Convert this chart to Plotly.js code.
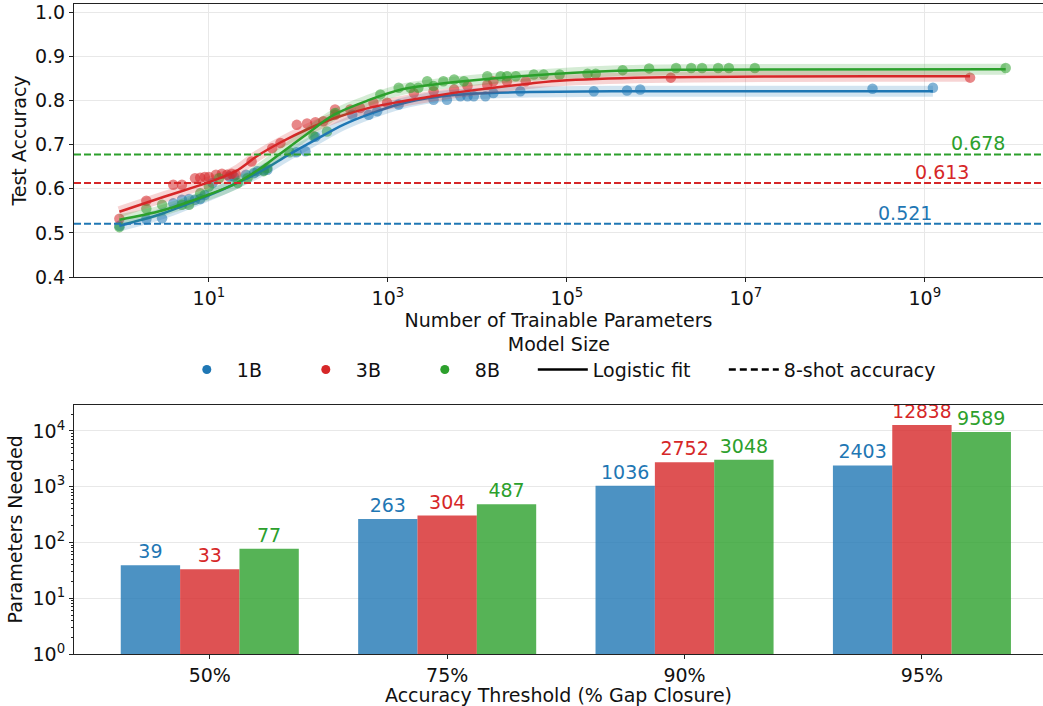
<!DOCTYPE html>
<html><head><meta charset="utf-8">
<script src="https://cdn.plot.ly/plotly-3.0.1.min.js"></script>
<style>html,body{margin:0;padding:0;background:#fff}</style>
</head><body>
<div id="chart" style="width:1043px;height:706px"></div>
<script>
// ---------- data ----------
const seriesNames = ['1B', '3B', '8B'];
const colors = ['#1f77b4', '#d62728', '#2ca02c'];

const params1B = [1, 2, 3, 4, 5, 6, 7, 8, 9, 11, 17, 19, 26, 32, 35, 41, 45, 95, 120, 155, 400, 610, 760, 1320, 3240, 4570, 6460, 7760, 9120, 12300, 15100, 30200, 2.0e5, 4.7e5, 6.6e5, 2.6e8, 1.23e9];
const acc1B    = [0.516, 0.531, 0.533, 0.567, 0.575, 0.577, 0.575, 0.577, 0.586, 0.613, 0.628, 0.628, 0.632, 0.636, 0.640, 0.642, 0.643, 0.683, 0.685, 0.718, 0.768, 0.768, 0.776, 0.791, 0.802, 0.802, 0.810, 0.810, 0.810, 0.810, 0.817, 0.821, 0.821, 0.823, 0.825, 0.827, 0.829];

const params3B = [1, 2, 4, 5, 7, 8, 9, 10, 12, 14, 16, 18, 20, 30, 51, 63, 96, 125, 155, 190, 257, 257, 380, 490, 690, 980, 1950, 3240, 5500, 7760, 12900, 15100, 21400, 34700, 1.45e6, 3.2e9];
const acc3B    = [0.532, 0.573, 0.609, 0.609, 0.624, 0.625, 0.627, 0.627, 0.632, 0.634, 0.632, 0.634, 0.632, 0.662, 0.692, 0.704, 0.745, 0.748, 0.751, 0.753, 0.780, 0.768, 0.780, 0.783, 0.795, 0.795, 0.817, 0.821, 0.825, 0.833, 0.836, 0.844, 0.844, 0.844, 0.852, 0.852];

const params8B = [1, 2, 3, 5, 6, 8, 10, 13, 21, 27, 41, 45, 80, 148, 209, 257, 824, 1320, 1780, 2190, 2750, 3240, 4170, 5500, 7080, 12900, 18200, 21400, 26900, 42700, 55000, 83000, 1.7e5, 2.1e5, 4.2e5, 8.3e5, 1.66e6, 2.45e6, 3.24e6, 4.9e6, 6.46e6, 1.26e7, 8.0e9];
const acc8B    = [0.513, 0.555, 0.564, 0.564, 0.564, 0.590, 0.605, 0.624, 0.613, 0.624, 0.640, 0.647, 0.683, 0.719, 0.730, 0.772, 0.814, 0.829, 0.829, 0.829, 0.844, 0.833, 0.844, 0.848, 0.844, 0.855, 0.855, 0.855, 0.855, 0.859, 0.859, 0.859, 0.861, 0.861, 0.869, 0.873, 0.874, 0.874, 0.874, 0.874, 0.874, 0.874, 0.874];

// logistic fit curves
const fitParams1B = [1, 3.16, 10, 20, 40, 79, 158, 316, 631, 1413, 3162, 7943, 31623, 3.16e5, 1.23e9];
const fitAcc1B    = [0.516, 0.545, 0.585, 0.612, 0.642, 0.678, 0.712, 0.745, 0.770, 0.793, 0.807, 0.815, 0.819, 0.821, 0.821];
const fitParams3B = [1, 3.16, 10, 20, 35, 63, 126, 251, 631, 1413, 3162, 7943, 39811, 1e5, 1.26e6, 3.2e9];
const fitAcc3B    = [0.548, 0.582, 0.615, 0.640, 0.675, 0.705, 0.735, 0.760, 0.784, 0.798, 0.810, 0.822, 0.839, 0.846, 0.853, 0.855];
const fitParams8B = [1, 3.16, 10, 20, 40, 63, 126, 251, 631, 1413, 3162, 7943, 39811, 3.16e5, 3.16e6, 8.0e9];
const fitAcc8B    = [0.530, 0.552, 0.587, 0.612, 0.650, 0.680, 0.725, 0.768, 0.802, 0.825, 0.836, 0.845, 0.857, 0.867, 0.870, 0.871];

const shotAcc = [0.521, 0.613, 0.678];

const thresholds = ['50%', '75%', '90%', '95%'];
const needed1B = [39, 263, 1036, 2403];
const needed3B = [33, 304, 2752, 12838];
const needed8B = [77, 487, 3048, 9589];

// ---------- build ----------
const F = 'DejaVu Sans';
const FS = 19;
const scatterX = [params1B, params3B, params8B];
const scatterY = [acc1B, acc3B, acc8B];
const fitX = [fitParams1B, fitParams3B, fitParams8B];
const fitY = [fitAcc1B, fitAcc3B, fitAcc8B];
const neededAll = [needed1B, needed3B, needed8B];
const barFill = ['rgba(31,119,180,0.8)', 'rgba(214,39,40,0.8)', 'rgba(44,160,44,0.8)'];

const traces = [];
for (let i = 0; i < 3; i++) {
  traces.push({
    type: 'scatter', mode: 'markers', x: scatterX[i], y: scatterY[i],
    xaxis: 'x', yaxis: 'y', showlegend: false, hoverinfo: 'skip',
    marker: {color: colors[i], size: 10.5, opacity: 0.55, line: {width: 0}}
  });
}
for (let i = 0; i < 3; i++) {
  traces.push({
    type: 'scatter', mode: 'lines', x: fitX[i], y: fitY[i],
    xaxis: 'x', yaxis: 'y', showlegend: false, hoverinfo: 'skip',
    line: {color: colors[i], width: 11, shape: 'spline'}, opacity: 0.2
  });
  traces.push({
    type: 'scatter', mode: 'lines', x: fitX[i], y: fitY[i],
    xaxis: 'x', yaxis: 'y', showlegend: false, hoverinfo: 'skip',
    line: {color: colors[i], width: 2.5, shape: 'spline'}
  });
}
const legW = [54, 54, 53];
for (let i = 0; i < 3; i++) {
  traces.push({
    type: 'scatter', mode: 'markers', x: [null], y: [null], name: seriesNames[i],
    xaxis: 'x', yaxis: 'y', legendwidth: legW[i],
    marker: {color: colors[i], size: 9}
  });
}
traces.push({type: 'scatter', mode: 'lines', x: [null], y: [null], name: 'Logistic fit',
  xaxis: 'x', yaxis: 'y', legendwidth: 126, line: {color: '#000', width: 2.5}});
traces.push({type: 'scatter', mode: 'lines', x: [null], y: [null], name: '8-shot accuracy',
  xaxis: 'x', yaxis: 'y', line: {color: '#000', width: 2.5, dash: '7px,4px'}});

for (let i = 0; i < 3; i++) {
  traces.push({
    type: 'bar', x: thresholds, y: neededAll[i], name: seriesNames[i],
    xaxis: 'x2', yaxis: 'y2', showlegend: false,
    marker: {color: barFill[i], line: {width: 0}},
    text: neededAll[i].map(String), textposition: 'outside', cliponaxis: false,
    textfont: {family: F, size: FS, color: colors[i]}, hoverinfo: 'skip'
  });
}

const shapes = shotAcc.map((v, i) => ({
  type: 'line', xref: 'x domain', yref: 'y', x0: 0, x1: 1, y0: v, y1: v,
  line: {color: colors[i], width: 2, dash: '7px,3px'}, layer: 'above'
}));
const labelPos = [0.858, 0.896, 0.933];
const annotations = shotAcc.map((v, i) => ({
  xref: 'x domain', yref: 'y', x: labelPos[i], y: v, yanchor: 'bottom', xanchor: 'center',
  text: v.toFixed(3), showarrow: false, font: {family: F, size: FS, color: colors[i]}, yshift: -2
}));

const gridC = '#e8e8e8';
const lineC = '#222';
const sup = n => '10<sup>' + n + '</sup>';

const layout = {
  width: 1043, height: 706,
  margin: {l: 74, r: 0, t: 4, b: 52, autoexpand: false},
  paper_bgcolor: '#fff', plot_bgcolor: '#fff',
  font: {family: F, size: FS, color: '#111'},
  barmode: 'group', bargap: 0.25, bargroupgap: 0,
  xaxis: {
    type: 'log', domain: [0, 1], anchor: 'y', range: [-0.507, 10.32],
    tickmode: 'array', tickvals: [10, 1e3, 1e5, 1e7, 1e9], ticktext: [sup(1), sup(3), sup(5), sup(7), sup(9)],
    showgrid: true, gridcolor: gridC, gridwidth: 1, zeroline: false,
    showline: true, linecolor: lineC, linewidth: 1, mirror: true,
    ticks: 'outside', ticklen: 4, tickcolor: lineC,
    title: {text: 'Number of Trainable Parameters', font: {family: F, size: FS}, standoff: 0}
  },
  yaxis: {
    domain: [0.58, 1], anchor: 'x', range: [0.4, 1.019],
    tickmode: 'array', tickvals: [0.4, 0.5, 0.6, 0.7, 0.8, 0.9, 1.0], tickformat: '.1f',
    showgrid: true, gridcolor: gridC, gridwidth: 1, zeroline: false,
    showline: true, linecolor: lineC, linewidth: 1,
    ticks: 'outside', ticklen: 4, tickcolor: lineC,
    title: {text: 'Test Accuracy', font: {family: F, size: FS}, standoff: 3}
  },
  xaxis2: {
    type: 'category', domain: [0, 1], anchor: 'y2', range: [-0.572, 3.51],
    showgrid: false, zeroline: false,
    showline: true, linecolor: lineC, linewidth: 1, mirror: true,
    ticks: 'outside', ticklen: 4, tickcolor: lineC,
    title: {text: 'Accuracy Threshold (% Gap Closure)', font: {family: F, size: FS}, standoff: 0}
  },
  yaxis2: {
    type: 'log', domain: [0, 0.3835], anchor: 'x2', range: [0, 4.47],
    tickmode: 'array', tickvals: [1, 10, 100, 1000, 10000], ticktext: [sup(0), sup(1), sup(2), sup(3), sup(4)],
    showgrid: true, gridcolor: gridC, gridwidth: 1, zeroline: false,
    showline: true, linecolor: lineC, linewidth: 1,
    ticks: 'outside', ticklen: 4, tickcolor: lineC,
    minor: {tickmode: 'array', tickvals: [2,3,4,5,6,7,8,9,20,30,40,50,60,70,80,90,200,300,400,500,600,700,800,900,2000,3000,4000,5000,6000,7000,8000,9000,20000],
            ticks: 'outside', ticklen: 2, tickcolor: lineC, showgrid: false},
    title: {text: 'Parameters Needed', font: {family: F, size: FS}, standoff: 4}
  },
  legend: {
    orientation: 'h', xref: 'paper', yref: 'paper', x: 0.1061, xanchor: 'left',
    y: 0.5047, yanchor: 'top', itemwidth: 50, bgcolor: 'rgba(0,0,0,0)',
    font: {family: F, size: FS, color: '#111'},
    title: {text: 'Model Size', side: 'top center', font: {family: F, size: FS}},
    traceorder: 'normal'
  },
  shapes: shapes,
  annotations: annotations
};

Plotly.newPlot('chart', traces, layout, {displayModeBar: false, staticPlot: true});
</script>
</body></html>
